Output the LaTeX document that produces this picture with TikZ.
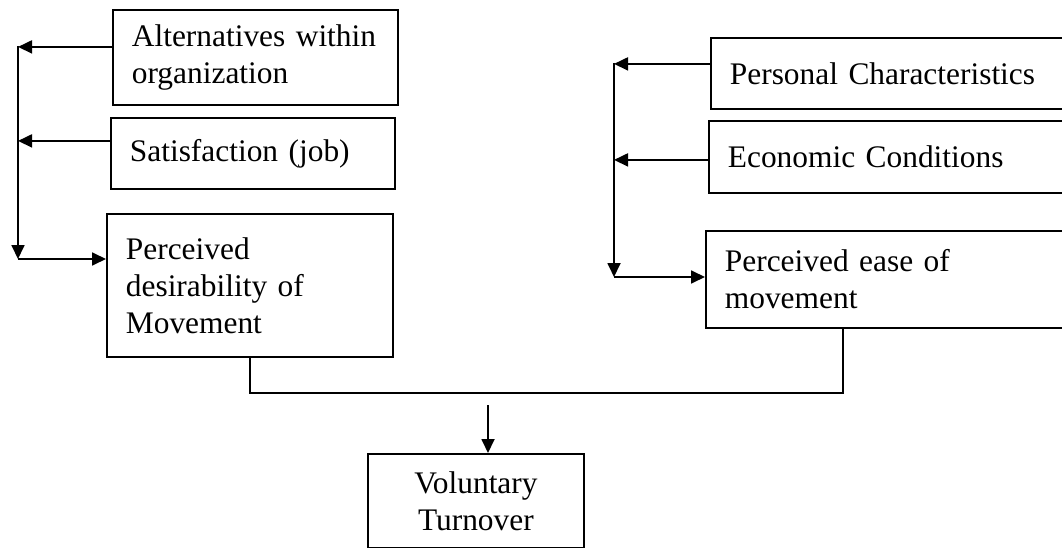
\documentclass[tikz,border=0pt]{standalone}
\usepackage{fontspec}
\setmainfont{Liberation Serif}
\usetikzlibrary{arrows.meta}

\begin{document}
\begin{tikzpicture}[x=1pt, y=-1pt, line width=1.8pt, >={Triangle[length=14pt, width=13pt]},
  box/.style={draw, rectangle, anchor=north west, align=left, inner xsep=19pt, inner ysep=0pt,
    font=\fontsize{31.4}{37}\selectfont}]
\useasboundingbox (0,0) rectangle (1062,548);
% left group
\node[box, text width=247pt, minimum height=95pt] (alt) at (112,9) {Alternatives within\\organization};
\node[box, text width=246pt, minimum height=71pt] (sat) at (110,117) {Satisfaction (job)};
\node[box, text width=248pt, minimum height=143pt] (des) at (106,213) {Perceived\\desirability of\\Movement};
% right group
\node[box, text width=327pt, minimum height=71pt] (pers) at (710,37) {Personal Characteristics};
\node[box, text width=329pt, minimum height=72pt] (econ) at (708,120) {Economic Conditions};
\node[box, text width=332pt, minimum height=97pt] (ease) at (705,230) {Perceived ease of\\movement};
% result
\node[box, align=center, text width=178pt, minimum height=94pt] (vol) at (367,453) {Voluntary\\Turnover};

\coordinate (lA) at (18,46);
\coordinate (lB) at (18,259);
\coordinate (rA) at (614,63);
\coordinate (rB) at (614,277);
\coordinate (mid) at (843,393);
\coordinate (top) at (488,405);

\draw[->] ([yshift=10.5pt]alt.west) coordinate (a1) -- (a1 -| lA);
\draw[->] ([yshift=12.5pt]sat.west) coordinate (s1) -- (s1 -| lA);
\draw[->] (lA) -- (lB);
\draw[->] (lB) -- (lB -| des.west);

\draw[->] ([yshift=9.5pt]pers.west) coordinate (p1) -- (p1 -| rA);
\draw[->] ([yshift=-3pt]econ.west) coordinate (e1) -- (e1 -| rA);
\draw[->] (rA) -- (rB);
\draw[->] (rB) -- (rB -| ease.west);

\draw (des.south) |- (mid) -- (mid |- ease.south);
\draw[->] (top) -- (top |- vol.north);
\end{tikzpicture}
\end{document}
